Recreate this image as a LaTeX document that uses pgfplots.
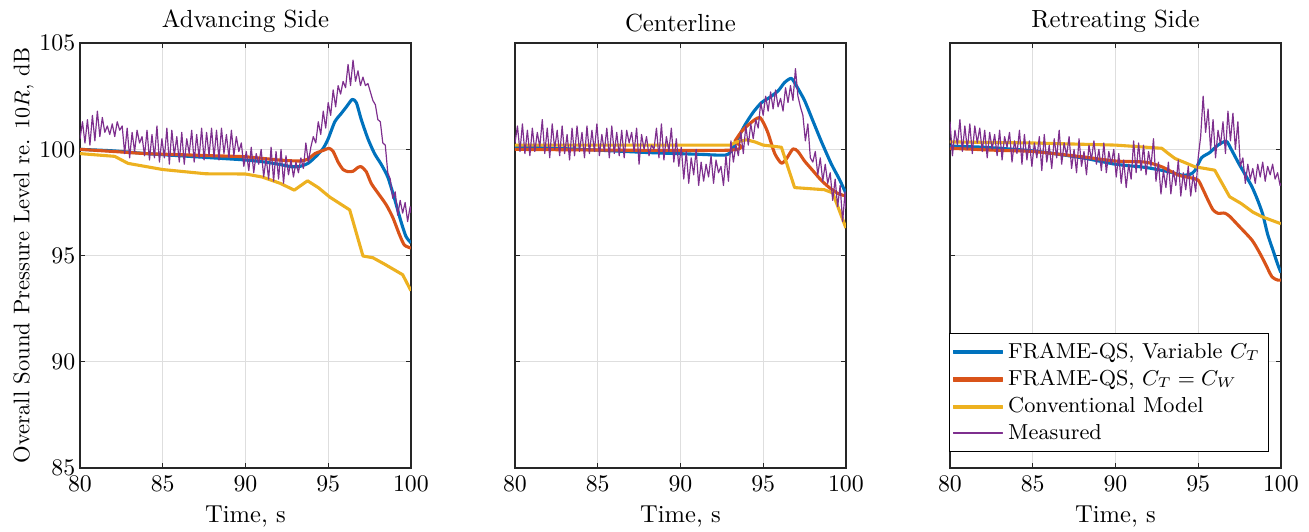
\documentclass[border=0pt]{standalone}
\usepackage{pgfplots}
\usepackage{pgfplotstable}
\pgfplotsset{compat=1.18}

\definecolor{mblue}{RGB}{0,114,189}
\definecolor{morange}{RGB}{217,83,25}
\definecolor{myellow}{RGB}{237,177,32}
\definecolor{mpurple}{RGB}{126,47,142}

% measured OASPL, advancing side
\pgfplotstableread{
t y
80.00 100.5
80.15 101.3
80.30 100.3
80.45 101.4
80.60 100.2
80.75 101.6
80.90 100.4
81.05 101.8
81.20 100.6
81.35 101.5
81.50 100.8
81.65 101.1
81.80 100.7
81.95 101.2
82.10 100.6
82.25 101.3
82.40 100.9
82.55 101.1
82.70 99.8
82.85 101.0
83.00 99.6
83.15 100.8
83.30 99.9
83.45 100.9
83.60 100.3
83.75 100.6
83.90 99.7
84.05 100.9
84.20 99.5
84.35 100.7
84.50 99.6
84.65 101.1
84.80 99.4
84.95 100.5
85.10 99.6
85.25 101.0
85.40 99.3
85.55 100.9
85.70 99.7
85.85 100.6
86.00 99.4
86.15 100.8
86.30 99.3
86.45 100.5
86.60 99.8
86.75 100.9
86.90 99.4
87.05 100.7
87.20 99.6
87.35 101.0
87.50 99.5
87.65 100.8
87.80 99.7
87.95 101.0
88.10 99.6
88.25 100.9
88.40 99.5
88.55 101.0
88.70 99.8
88.85 100.7
89.00 99.6
89.15 100.9
89.30 99.7
89.45 100.6
89.60 99.9
89.75 100.3
89.90 99.2
90.05 99.9
90.20 99.0
90.35 100.1
90.50 98.9
90.65 99.8
90.80 99.3
90.95 100.0
91.10 98.7
91.25 99.6
91.40 98.6
91.55 100.1
91.70 98.5
91.85 99.9
92.00 98.6
92.15 100.0
92.30 98.4
92.45 99.7
92.60 98.8
92.75 99.5
92.90 98.7
93.05 99.4
93.20 98.9
93.35 99.6
93.50 99.1
93.65 100.3
93.80 99.4
93.95 100.1
94.10 100.6
94.25 100.3
94.40 101.3
94.55 100.7
94.70 101.8
94.85 101.0
95.00 102.2
95.15 101.6
95.30 102.8
95.45 102.0
95.60 103.0
95.75 102.6
95.90 103.2
96.05 102.9
96.20 104.0
96.35 103.0
96.50 104.2
96.65 103.2
96.80 103.7
96.95 103.0
97.10 103.4
97.25 103.0
97.40 103.1
97.55 102.7
97.70 102.3
97.85 102.1
98.00 101.4
98.15 101.3
98.30 100.3
98.45 100.2
98.60 98.9
98.75 98.6
98.90 97.7
99.05 98.0
99.20 96.9
99.35 97.6
99.50 97.0
99.65 97.5
99.80 96.6
99.95 97.3
100.00 97.0
}\measA

% measured OASPL, centerline
\pgfplotstableread{
t y
80.00 100.3
80.15 101.1
80.30 99.9
80.45 101.2
80.60 99.8
80.75 100.9
80.90 99.7
81.05 101.0
81.20 99.9
81.35 100.8
81.50 100.1
81.65 101.4
81.80 99.8
81.95 101.0
82.10 99.6
82.25 101.2
82.40 100.0
82.55 100.9
82.70 99.7
82.85 101.1
83.00 99.8
83.15 100.7
83.30 99.5
83.45 101.0
83.60 99.7
83.75 101.1
83.90 99.9
84.05 100.8
84.20 99.6
84.35 101.1
84.50 99.8
84.65 100.9
84.80 99.9
84.95 101.2
85.10 99.7
85.25 100.7
85.40 99.9
85.55 101.0
85.70 99.6
85.85 101.1
86.00 99.8
86.15 100.8
86.30 99.7
86.45 100.9
86.60 99.6
86.75 100.9
86.90 100.3
87.05 100.8
87.20 99.9
87.35 101.0
87.50 99.3
87.65 100.7
87.80 100.0
87.95 100.6
88.10 99.7
88.25 100.2
88.40 100.0
88.55 101.0
88.70 99.6
88.85 101.2
89.00 99.5
89.15 100.6
89.30 99.9
89.45 101.0
89.60 99.4
89.75 100.5
89.90 99.2
90.05 100.1
90.20 98.6
90.35 99.9
90.50 98.4
90.65 99.6
90.80 98.8
90.95 100.0
91.10 98.3
91.25 99.4
91.40 98.5
91.55 99.3
91.70 98.7
91.85 99.7
92.00 98.4
92.15 99.5
92.30 98.9
92.45 99.2
92.60 98.3
92.75 99.7
92.90 98.5
93.05 100.4
93.20 99.4
93.35 100.2
93.50 99.7
93.65 100.8
93.80 99.8
93.95 101.1
94.10 100.2
94.25 101.2
94.40 100.5
94.55 101.4
94.70 101.0
94.85 102.2
95.00 101.6
95.15 102.5
95.30 101.8
95.45 102.7
95.60 101.9
95.75 102.8
95.90 102.0
96.05 102.4
96.20 101.8
96.35 102.9
96.50 102.2
96.65 103.0
96.80 102.3
96.95 103.8
97.10 102.5
97.25 102.0
97.40 101.6
97.55 100.4
97.70 101.2
97.85 99.6
98.00 99.4
98.15 99.9
98.30 98.8
98.45 99.6
98.60 98.5
98.75 99.3
98.90 98.4
99.05 98.9
99.20 97.6
99.35 98.6
99.50 97.3
99.65 98.3
99.80 96.6
99.95 98.0
100.00 97.2
}\measB

% measured OASPL, retreating side
\pgfplotstableread{
t y
80.00 101.3
80.15 99.7
80.30 100.9
80.45 100.2
80.60 101.4
80.75 99.9
80.90 101.1
81.05 100.0
81.20 101.2
81.35 99.8
81.50 101.1
81.65 100.3
81.80 101.0
81.95 99.9
82.10 100.9
82.25 99.6
82.40 100.8
82.55 100.0
82.70 100.7
82.85 99.7
83.00 100.9
83.15 99.5
83.30 100.6
83.45 100.1
83.60 100.8
83.75 99.4
83.90 100.4
84.05 99.8
84.20 100.9
84.35 99.3
84.50 100.7
84.65 99.5
84.80 100.4
84.95 99.2
85.10 100.3
85.25 99.6
85.40 100.6
85.55 99.0
85.70 100.7
85.85 99.4
86.00 100.2
86.15 99.1
86.30 100.5
86.45 99.6
86.60 100.9
86.75 99.3
86.90 100.3
87.05 99.7
87.20 100.6
87.35 99.1
87.50 100.0
87.65 98.9
87.80 100.5
87.95 99.2
88.10 99.9
88.25 98.8
88.40 100.2
88.55 99.5
88.70 100.4
88.85 99.3
89.00 100.0
89.15 99.0
89.30 100.3
89.45 98.9
89.60 99.9
89.75 99.3
89.90 100.0
90.05 98.7
90.20 99.8
90.35 98.4
90.50 99.5
90.65 98.2
90.80 99.3
90.95 98.6
91.10 100.4
91.25 98.9
91.40 100.3
91.55 99.0
91.70 100.2
91.85 98.8
92.00 99.9
92.15 99.2
92.30 100.5
92.45 98.5
92.60 99.4
92.75 97.9
92.90 99.0
93.05 98.2
93.20 99.4
93.35 97.9
93.50 99.0
93.65 98.3
93.80 99.5
93.95 97.8
94.10 98.9
94.25 98.1
94.40 99.2
94.55 97.8
94.70 98.8
94.85 98.0
95.00 99.6
95.15 100.6
95.30 102.5
95.45 100.8
95.60 101.9
95.75 100.0
95.90 101.4
96.05 99.6
96.20 100.9
96.35 100.2
96.50 101.3
96.65 99.8
96.80 101.8
96.95 100.4
97.10 101.7
97.25 100.0
97.40 101.3
97.55 99.2
97.70 99.6
97.85 98.4
98.00 99.3
98.15 98.6
98.30 99.1
98.45 98.4
98.60 99.3
98.75 98.7
98.90 99.4
99.05 98.5
99.20 99.2
99.35 98.8
99.50 99.3
99.65 98.6
99.80 98.9
99.95 98.3
100.00 98.4
}\measC

\pgfplotsset{
  matlab/.style={
    width=139pt, height=178.5pt, scale only axis,
    xmin=80, xmax=100, ymin=85, ymax=105,
    xtick={80,85,90,95,100}, ytick={85,90,95,100,105},
    grid=major,
    major grid style={color=black!13, line width=0.45pt},
    axis line style={color=black!85, line width=0.55pt},
    tick style={color=black!85, line width=0.55pt},
    tick align=inside, major tick length=2pt,
    yticklabel style={xshift=1.5pt},
    xlabel={Time, s},
    xlabel style={yshift=1pt, font=\fontsize{10.3}{12}\selectfont},
    title style={yshift=-5pt, font=\fontsize{10.4}{12}\selectfont},
    every axis plot/.append style={line join=round},
  },
}

\begin{document}
\begin{tikzpicture}
\useasboundingbox (-33.6pt,-26.5pt) rectangle (516.2pt,196.6pt);

% advancing side
\begin{axis}[matlab, at={(0pt,0pt)}, title={Advancing Side},
  ylabel={Overall Sound Pressure Level re. $10R$, dB},
  ylabel style={yshift=-4.5pt, font=\fontsize{9.5}{11}\selectfont}]
\addplot[color=mblue, line width=1.3pt, smooth, tension=0.4] coordinates {
  (80,100.0) (82,99.93) (84,99.8) (86,99.7) (88,99.6) (90,99.5) (91,99.42)
  (92,99.3) (92.8,99.18) (93.3,99.2) (93.8,99.35) (94.3,99.7) (94.7,100.05)
  (95.0,100.5) (95.4,101.3) (95.8,101.7) (96.1,102.0) (96.45,102.35)
  (96.7,102.2) (97.0,101.4) (97.4,100.5) (97.8,99.8) (98.2,99.3) (98.6,98.7)
  (99.0,97.7) (99.4,96.6) (99.7,95.9) (100,95.6)};
\addplot[color=morange, line width=1.3pt, smooth, tension=0.4] coordinates {
  (80,100.0) (82,99.9) (84,99.8) (86,99.75) (88,99.7) (90,99.65) (92,99.5)
  (93.3,99.45) (93.8,99.55) (94.2,99.8) (94.7,99.95) (95.05,100.05)
  (95.3,99.9) (95.6,99.4) (95.9,99.05) (96.2,98.95) (96.5,98.97) (96.8,99.15)
  (97.0,99.18) (97.3,98.95) (97.6,98.4) (98.0,97.95) (98.5,97.4) (98.9,96.8)
  (99.3,96.0) (99.6,95.5) (100,95.35)};
\addplot[color=myellow, line width=1.3pt] coordinates {
  (80,99.8) (82.1,99.67) (82.9,99.34) (85,99.05) (87.6,98.85) (90,98.84)
  (91,98.7) (92.1,98.4) (92.95,98.08) (93.75,98.52) (94.4,98.2) (95.1,97.75)
  (96.3,97.15) (97.1,94.98) (97.7,94.9) (98.4,94.6) (99.5,94.1) (100,93.35)};
\addplot[color=mpurple, line width=0.5pt] table[x=t, y=y] {\measA};
\end{axis}

% centerline
\begin{axis}[matlab, at={(182.7pt,0pt)}, title={Centerline}, yticklabels={}]
\addplot[color=mblue, line width=1.3pt, smooth, tension=0.4] coordinates {
  (80,100.12) (84,100.0) (88,99.85) (91,99.77) (92.7,99.73) (93.1,99.95)
  (93.5,100.55) (93.9,101.15) (94.4,101.75) (94.9,102.2) (95.4,102.45)
  (95.9,102.75) (96.3,103.15) (96.7,103.34) (97.0,103.0) (97.5,102.3)
  (98.0,101.35) (98.5,100.4) (99.1,99.34) (99.6,98.6) (100,97.93)};
\addplot[color=morange, line width=1.3pt, smooth, tension=0.4] coordinates {
  (80,100.0) (92.9,99.96) (93.3,100.4) (93.7,100.85) (94.1,101.15)
  (94.5,101.4) (94.8,101.5) (95.05,101.2) (95.3,100.75) (95.7,99.8)
  (96.1,99.35) (96.4,99.55) (96.8,100.02) (97.1,99.9) (97.5,99.45)
  (98.0,99.0) (98.5,98.55) (99.0,98.2) (99.5,97.93) (100,97.8)};
\addplot[color=myellow, line width=1.3pt] coordinates {
  (80,100.2) (93.0,100.2) (93.4,100.35) (94.0,100.45) (94.5,100.35)
  (95.0,100.2) (96.1,100.1) (96.9,98.2) (98.7,98.1) (99.2,97.95) (100,96.3)};
\addplot[color=mpurple, line width=0.5pt] table[x=t, y=y] {\measB};
\end{axis}

% retreating side
\begin{axis}[matlab, at={(365.4pt,0pt)}, title={Retreating Side}, yticklabels={},
  legend style={at={(0.964,0.038)}, anchor=south east, draw=black,
    inner sep=1.5pt, row sep=-1pt,
    font=\fontsize{9.1}{11}\selectfont,
    nodes={inner sep=2.2pt}},
  legend cell align=left]
\addplot[color=mblue, line width=1.3pt, smooth, tension=0.4,
  forget plot] coordinates {
  (80,100.15) (82,100.1) (85,99.93) (88,99.6) (90,99.3) (91.8,99.15)
  (93.2,98.95) (94.0,98.79) (94.5,98.82) (94.8,99.0) (95.2,99.6) (95.7,99.85)
  (96.2,100.2) (96.7,100.38) (97.0,100.0) (97.45,99.34) (97.85,98.8)
  (98.25,98.24) (98.6,97.6) (98.9,96.95) (99.2,96.0) (99.5,95.3) (99.8,94.6)
  (100,94.2)};
\addplot[color=morange, line width=1.3pt, smooth, tension=0.4,
  forget plot] coordinates {
  (80,100.05) (83,99.95) (85,99.9) (88,99.65) (90,99.45) (91.8,99.4)
  (92.8,99.18) (93.8,98.79) (94.6,98.65) (95.0,98.55) (95.3,98.1) (95.6,97.6)
  (95.9,97.15) (96.2,96.99) (96.6,97.0) (96.9,96.85) (97.45,96.4)
  (98.25,95.73) (98.7,95.15) (99.05,94.63) (99.46,94.0) (99.8,93.85)
  (100,93.85)};
\addplot[color=myellow, line width=1.3pt, forget plot] coordinates {
  (80,100.35) (85,100.3) (90,100.2) (92.8,100.05) (93.2,99.8) (93.6,99.57)
  (94.8,99.18) (96.0,99.02) (96.9,97.77) (97.6,97.45) (98.3,97.05)
  (98.85,96.83) (100,96.5)};
\addplot[color=mpurple, line width=0.5pt, forget plot] table[x=t, y=y] {\measC};
\addlegendimage{legend image code/.code={\fill[mblue] (0pt,-0.65pt) rectangle (20.5pt,0.65pt);}}
\addlegendentry{FRAME-QS, Variable $C_T$}
\addlegendimage{legend image code/.code={\fill[morange] (0pt,-0.65pt) rectangle (20.5pt,0.65pt);}}
\addlegendentry{FRAME-QS, $C_T = C_W$}
\addlegendimage{legend image code/.code={\fill[myellow] (0pt,-0.65pt) rectangle (20.5pt,0.65pt);}}
\addlegendentry{Conventional Model}
\addlegendimage{legend image code/.code={\fill[mpurple] (0pt,-0.25pt) rectangle (20.5pt,0.25pt);}}
\addlegendentry{Measured}
\end{axis}
\end{tikzpicture}
\end{document}
